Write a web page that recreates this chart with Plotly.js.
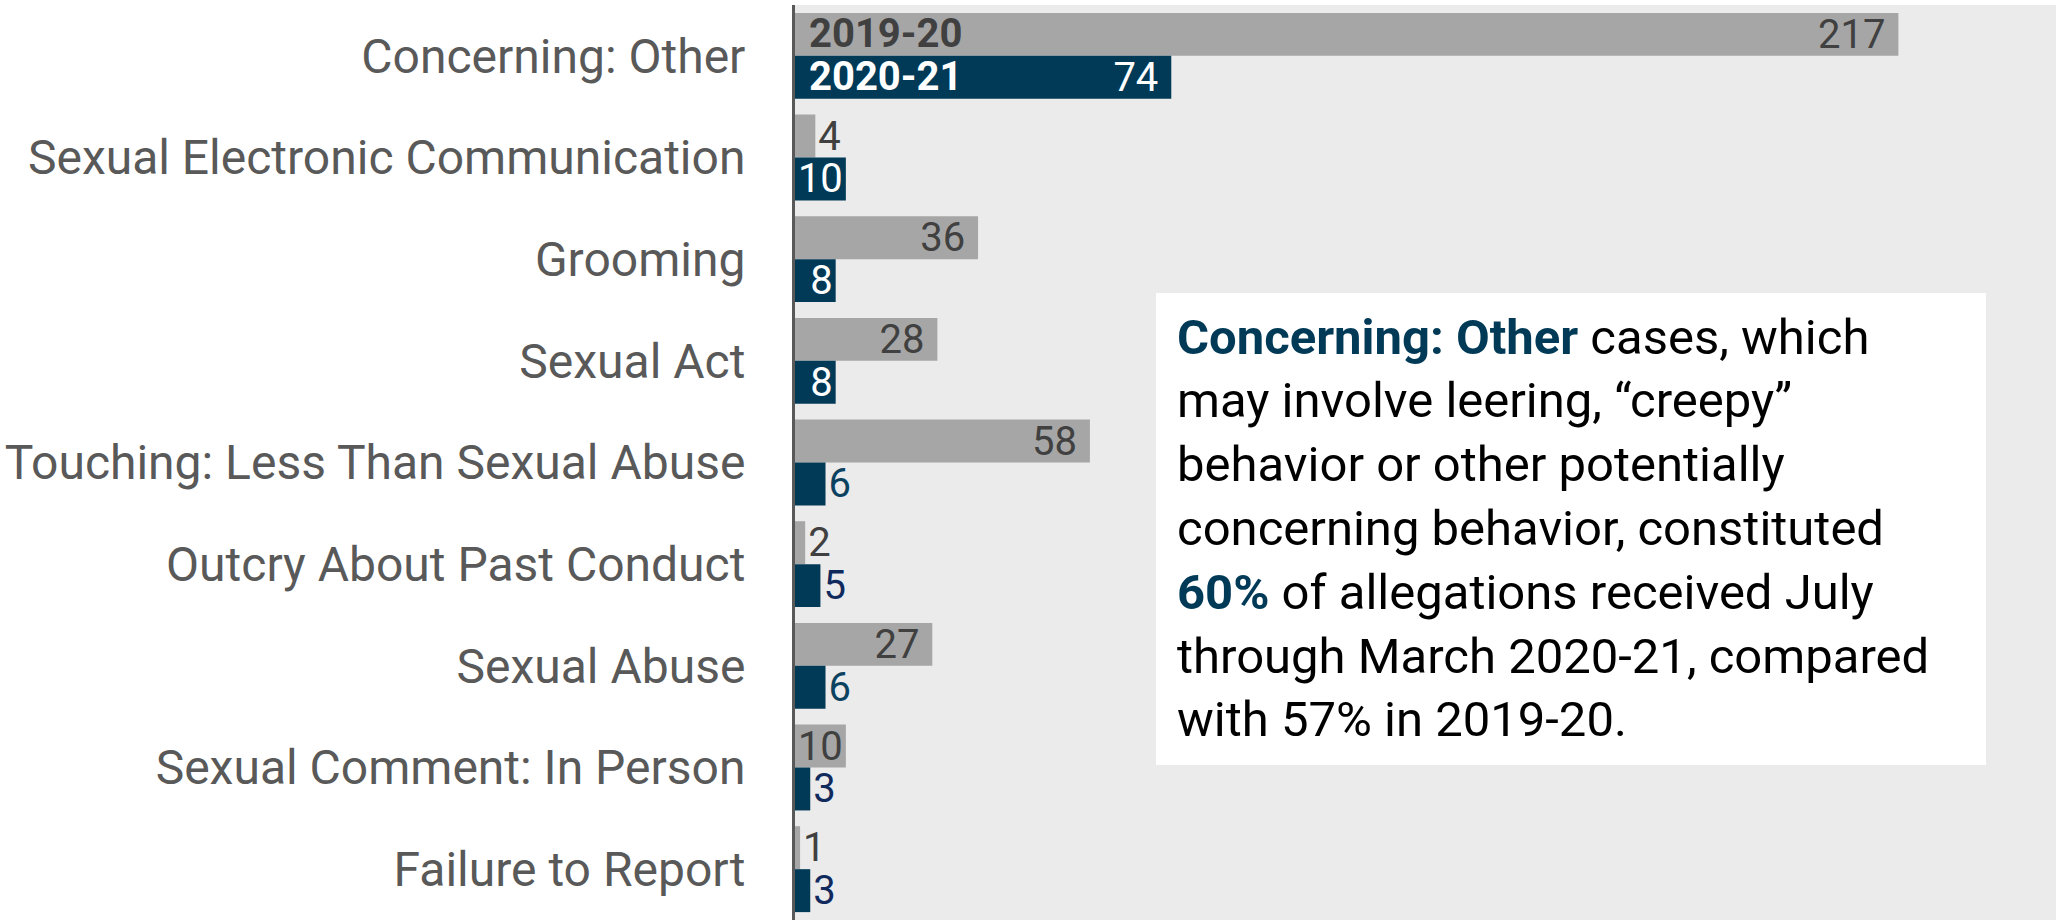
<!DOCTYPE html>
<html>
<head>
<meta charset="utf-8">
<script src="https://cdn.plot.ly/plotly-3.0.1.min.js"></script>
<style>html,body{margin:0;padding:0;background:#fff;}</style>
</head>
<body>
<div id="chart" style="width:2056px;height:920px;"></div>
<script>
// ---- data ----
const categories = [
  'Concerning: Other',
  'Sexual Electronic Communication',
  'Grooming',
  'Sexual Act',
  'Touching: Less Than Sexual Abuse',
  'Outcry About Past Conduct',
  'Sexual Abuse',
  'Sexual Comment: In Person',
  'Failure to Report'
];
const seriesNames = ['2019-20', '2020-21'];
const values2019 = [217, 4, 36, 28, 58, 2, 27, 10, 1];
const values2020 = [74, 10, 8, 8, 6, 5, 6, 3, 3];

const noteLines = [
  '<span style="color:#003a57"><b>Concerning: Other</b></span> cases, which',
  'may involve leering, \u201ccreepy\u201d',
  'behavior or other potentially',
  'concerning behavior, constituted',
  '<span style="color:#003a57"><b>60%</b></span> of allegations received July',
  'through March 2020-21, compared',
  'with 57% in 2019-20.'
];

// ---- styling ----
const GREY = '#a6a6a6', NAVY = '#003a57';
const FONT = 'Roboto, "Liberation Sans", sans-serif';
const LABEL_SIZE = 40;

function labelText(vals, insideMin) {
  return vals.map(v => v >= insideMin ? (v >= 20 ? v + '\u00a0' : String(v)) : String(v));
}
function labelPos(vals, insideMin) {
  return vals.map(v => v >= insideMin ? 'inside' : 'outside');
}

const greyColors = values2019.map(() => '#404040');
const navyColors = values2020.map(v => v >= 8 ? '#ffffff' : (v === 6 ? '#0b4260' : '#112a5e'));

const traces = [
  {
    type: 'bar', orientation: 'h', name: seriesNames[0],
    y: categories, x: values2019,
    marker: {color: GREY},
    text: labelText(values2019, 10),
    textposition: labelPos(values2019, 10),
    insidetextanchor: 'end',
    textangle: 0,
    constraintext: 'none',
    cliponaxis: false,
    textfont: {family: FONT, size: LABEL_SIZE, color: greyColors},
    hoverinfo: 'none'
  },
  {
    type: 'bar', orientation: 'h', name: seriesNames[1],
    y: categories, x: values2020,
    marker: {color: NAVY},
    text: labelText(values2020, 8),
    textposition: labelPos(values2020, 8),
    insidetextanchor: 'end',
    textangle: 0,
    constraintext: 'none',
    cliponaxis: false,
    textfont: {family: FONT, size: LABEL_SIZE, color: navyColors},
    hoverinfo: 'none'
  }
];

// note box geometry (pixels of the 2056x920 figure)
const M = {l: 795, r: 0, t: 5, b: 0};
const W = 2056, H = 920;
const pw = W - M.l - M.r, ph = H - M.t - M.b;
const px = x => (x - M.l) / pw;
const py = y => (H - M.b - y) / ph;

const annotations = [
  {xref: 'x', yref: 'y', x: 0, y: categories[0], xanchor: 'left', yanchor: 'middle',
   xshift: 12, yshift: 22, showarrow: false, text: '<b>' + seriesNames[0] + '</b>',
   font: {family: FONT, size: LABEL_SIZE, color: '#404040'}},
  {xref: 'x', yref: 'y', x: 0, y: categories[0], xanchor: 'left', yanchor: 'middle',
   xshift: 12, yshift: -21, showarrow: false, text: '<b>' + seriesNames[1] + '</b>',
   font: {family: FONT, size: LABEL_SIZE, color: '#ffffff'}}
];
const firstBaseline = 354, pitch = 63.8;
noteLines.forEach((t, i) => {
  annotations.push({
    xref: 'paper', yref: 'paper', x: px(1175), y: py(firstBaseline + pitch * i - 17),
    xanchor: 'left', yanchor: 'middle', showarrow: false, align: 'left',
    text: t, font: {family: FONT, size: 49, color: '#000000'}
  });
});

const layout = {
  width: W, height: H,
  margin: M,
  paper_bgcolor: '#ffffff',
  plot_bgcolor: '#ebebeb',
  barmode: 'group',
  bargap: 0.155,
  bargroupgap: 0,
  showlegend: false,
  uniformtext: {mode: 'show', minsize: LABEL_SIZE},
  xaxis: {range: [0, 248], showgrid: false, zeroline: false, showticklabels: false,
          showline: false, ticks: '', fixedrange: true},
  yaxis: {type: 'category', autorange: 'reversed', showgrid: false, zeroline: false,
          showline: true, linecolor: '#595959', linewidth: 3, ticks: '',
          ticklabelstandoff: 37,
          tickfont: {family: FONT, size: 48, color: '#595959'}, fixedrange: true},
  shapes: [{type: 'rect', xref: 'paper', yref: 'paper',
            x0: px(1156), x1: px(1986), y0: py(765), y1: py(293),
            fillcolor: '#ffffff', line: {width: 0}, layer: 'above'}],
  annotations: annotations
};

Plotly.newPlot('chart', traces, layout, {staticPlot: true, displayModeBar: false});
</script>
</body>
</html>
